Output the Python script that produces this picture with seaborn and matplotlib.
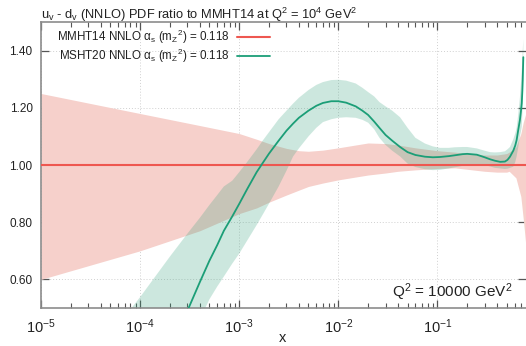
import numpy as np
import pandas as pd
import matplotlib
matplotlib.use("Agg")
import matplotlib.pyplot as plt
from matplotlib.ticker import LogLocator, NullFormatter
import seaborn as sns

# ---------------- data ----------------
# MMHT14 (reference set, ratio to itself)
x_red = [1e-5, 1e-4, 4e-4, 1e-3, 1.5e-3, 2e-3, 3e-3, 4e-3, 5e-3, 7e-3, 1e-2,
         1.5e-2, 2e-2, 3e-2, 4e-2, 6e-2, 0.1, 0.15, 0.2, 0.3, 0.4, 0.5, 0.53,
         0.62, 0.695, 0.736, 0.78]
red_mid = [1.0, 1.0, 1.0, 1.0, 1.0, 1.0, 1.0, 1.0, 1.0, 1.0, 1.0,
           1.0, 1.0, 1.0, 1.0, 1.0, 1.0, 1.0, 1.0, 1.0, 1.0, 1.0, 1.0,
           1.0, 1.0, 1.0, 1.0]
red_lo = [0.60, 0.70, 0.77, 0.83, 0.85, 0.87, 0.895, 0.912, 0.925, 0.937, 0.948,
          0.958, 0.965, 0.972, 0.978, 0.983, 0.988, 0.99, 0.985, 0.978, 0.975, 0.975, 0.978,
          0.955, 0.89, 0.81, 0.72]
red_hi = [1.25, 1.18, 1.138, 1.11, 1.09, 1.075, 1.058, 1.05, 1.048, 1.052, 1.06,
          1.07, 1.077, 1.075, 1.07, 1.06, 1.05, 1.045, 1.04, 1.035, 1.035, 1.04, 1.045,
          1.063, 1.11, 1.15, 1.18]

# MSHT20
x_grn = [7e-5, 1e-4, 2e-4, 3e-4, 4e-4, 5e-4, 6e-4, 7e-4, 8.5e-4, 1e-3, 1.2e-3, 1.5e-3,
         1.75e-3, 2e-3, 2.5e-3, 3e-3, 3.5e-3, 4e-3, 5e-3, 6e-3, 7e-3, 8.5e-3, 1e-2,
         1.2e-2, 1.5e-2, 1.75e-2, 2e-2, 2.3e-2, 2.6e-2, 3e-2, 3.5e-2, 4.2e-2, 5e-2,
         6e-2, 7.5e-2, 0.09, 0.106, 0.13, 0.15, 0.18, 0.2, 0.25, 0.3, 0.34, 0.38, 0.43,
         0.48, 0.51, 0.54, 0.583, 0.61, 0.63, 0.656, 0.68, 0.695, 0.71, 0.72, 0.726, 0.736]
grn_mid = [0.05, 0.15, 0.37, 0.49, 0.59, 0.665, 0.72, 0.77, 0.82, 0.864, 0.915, 0.975,
           1.01, 1.04, 1.085, 1.12, 1.145, 1.165, 1.19, 1.207, 1.217, 1.223, 1.223,
           1.218, 1.205, 1.19, 1.175, 1.152, 1.13, 1.105, 1.085, 1.063, 1.045,
           1.035, 1.029, 1.027, 1.028, 1.031, 1.034, 1.038, 1.039, 1.036, 1.027, 1.02, 1.015, 1.011,
           1.012, 1.018, 1.029, 1.05, 1.068, 1.087, 1.125, 1.157, 1.185, 1.216, 1.26, 1.296, 1.377]
grn_lo = [0.0, 0.05, 0.30, 0.40, 0.46, 0.53, 0.575, 0.61, 0.655, 0.69, 0.735, 0.79,
          0.83, 0.865, 0.925, 0.98, 1.03, 1.058, 1.10, 1.13, 1.15, 1.16, 1.165,
          1.167, 1.165, 1.158, 1.148, 1.125, 1.095, 1.07, 1.05, 1.03, 1.005,
          0.993, 0.985, 0.982, 0.983, 0.988, 0.992, 0.997, 1.0, 1.003, 1.0, 0.995, 0.99, 0.988,
          0.986, 0.987, 0.99, 0.994, 1.01, 1.03, 1.064, 1.10, 1.115, 1.133, 1.18, 1.22, 1.31]
grn_hi = [0.47, 0.538, 0.68, 0.76, 0.815, 0.86, 0.895, 0.925, 0.945, 0.975, 1.01, 1.055,
          1.088, 1.115, 1.16, 1.19, 1.215, 1.235, 1.262, 1.28, 1.29, 1.297, 1.298,
          1.295, 1.285, 1.27, 1.255, 1.24, 1.22, 1.205, 1.19, 1.167, 1.13,
          1.095, 1.075, 1.065, 1.06, 1.06, 1.062, 1.063, 1.063, 1.058, 1.05, 1.045, 1.044, 1.045,
          1.048, 1.055, 1.063, 1.09, 1.11, 1.13, 1.18, 1.236, 1.28, 1.33, 1.37, 1.40, 1.44]

label_red = r'MMHT14 NNLO $\mathregular{\alpha_s}$ (m$_\mathregular{Z}{}^\mathregular{2}$) = 0.118'
label_grn = r'MSHT20 NNLO $\mathregular{\alpha_s}$ (m$_\mathregular{Z}{}^\mathregular{2}$) = 0.118'
title = (r'u$_\mathregular{v}$ - d$_\mathregular{v}$ (NNLO) PDF ratio to MMHT14 at '
         r'Q$^\mathregular{2}$ = 10$^\mathregular{4}$ GeV$^\mathregular{2}$')
y_ticks = [0.6, 0.8, 1.0, 1.2, 1.4]
x_ticks = [1e-5, 1e-4, 1e-3, 1e-2, 1e-1]
x_ticklabels = [r'10$^\mathregular{-5}$', r'10$^\mathregular{-4}$', r'10$^\mathregular{-3}$',
                r'10$^\mathregular{-2}$', r'10$^\mathregular{-1}$']

# ---------------- style ----------------
sns.set_style("white")
plt.rcParams['font.family'] = ['Liberation Sans', 'DejaVu Sans']
plt.rcParams['mathtext.fontset'] = 'custom'
plt.rcParams['mathtext.rm'] = 'Liberation Sans'
plt.rcParams['mathtext.it'] = 'Liberation Sans:italic'
plt.rcParams['mathtext.bf'] = 'Liberation Sans:bold'

RED = '#ee5750'
RED_FILL = '#f6d0cb'
GRN = '#1b9e77'
GRN_FILL = (55/255, 163/255, 127/255)
GRAY = '#8c8c8c'

W, H = 526, 346
fig = plt.figure(figsize=(W/100, H/100), dpi=100)
ax_left, ax_bottom, ax_top = 41, 308, 22
xmax = 0.78
decade_px = 99.1
ax_w = (np.log10(xmax) + 5) * decade_px
ax = fig.add_axes([ax_left/W, 1 - ax_bottom/H, ax_w/W, (ax_bottom - ax_top)/H])

df_red = pd.DataFrame({'x': x_red, 'y': red_mid})
df_grn = pd.DataFrame({'x': x_grn, 'y': grn_mid})

ax.fill_between(x_red, red_lo, red_hi, color=RED_FILL, lw=0, zorder=1)
ax.fill_between(x_grn, grn_lo, grn_hi, color=GRN_FILL, alpha=0.25, lw=0, zorder=2)
sns.lineplot(data=df_red, x='x', y='y', color=RED, lw=1.5, ax=ax, label=label_red, zorder=3)
sns.lineplot(data=df_grn, x='x', y='y', color=GRN, lw=1.3, ax=ax, label=label_grn, zorder=4)

ax.set_xscale('log')
ax.set_xlim(1e-5, xmax)
ax.set_ylim(0.5, 1.5)

ax.set_xticks(x_ticks)
ax.set_xticklabels(x_ticklabels)
ax.xaxis.set_minor_locator(LogLocator(base=10, subs=np.arange(2, 10), numticks=20))
ax.xaxis.set_minor_formatter(NullFormatter())
ax.set_yticks(y_ticks)
ax.set_yticklabels([f'{v:.2f}' for v in y_ticks])

ax.tick_params(axis='both', which='major', direction='in', length=6, width=0.9,
               color='#555555', top=True, right=True, bottom=True, left=True)
ax.tick_params(axis='both', which='minor', direction='in', length=3.5, width=0.8,
               color='#555555', top=True, right=True, bottom=True)
ax.tick_params(axis='x', which='major', labelsize=10.5, pad=7, labelcolor='#222222')
ax.tick_params(axis='y', which='major', labelsize=8.5, pad=6, labelcolor='#222222')

ax.grid(True, which='major', ls=(0, (1, 2)), lw=0.7, color='#d0d0d0', zorder=0)
ax.set_axisbelow(True)
for s in ax.spines.values():
    s.set_color(GRAY)
    s.set_linewidth(1.2)
ax.spines['right'].set_visible(False)

ax.set_xlabel('')
ax.set_ylabel('')
fig.text(283/W, 1 - 342/H, 'x', fontsize=10.5, ha='center', va='baseline', color='#222222')

fig.text(41/W, 1 - 19/H, title, fontsize=9.3, ha='left', va='baseline', color='#222222')

ax.text((512 - ax_left)/ax_w, (ax_bottom - 297)/(ax_bottom - ax_top),
        r'Q$^\mathregular{2}$ = 10000 GeV$^\mathregular{2}$', transform=ax.transAxes,
        ha='right', va='baseline', fontsize=11, color='#222222')

leg = ax.legend(loc='upper left', bbox_to_anchor=(57/W, 1 - 28/H), bbox_transform=fig.transFigure,
                frameon=False, markerfirst=False, fontsize=8.4, handlelength=2.85,
                handletextpad=0.6, labelspacing=0.02, borderpad=0, borderaxespad=0)
for t in leg.get_texts():
    t.set_color('#222222')

fig.savefig('out.png', dpi=100)
